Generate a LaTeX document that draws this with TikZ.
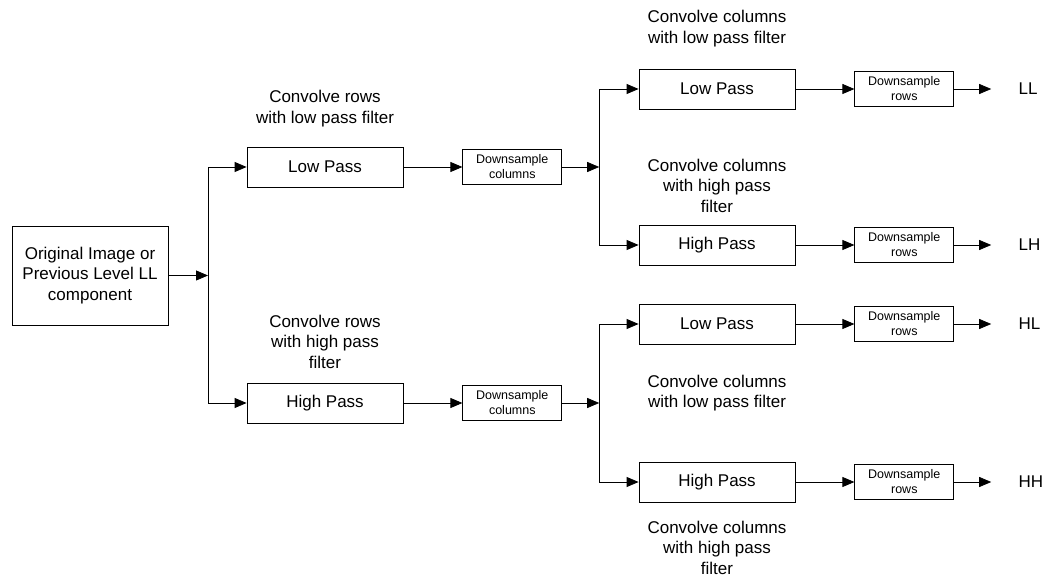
\documentclass[tikz,border=0pt]{standalone}
\usepackage{fontspec}
\setmainfont{Liberation Sans}
\usetikzlibrary{arrows.meta, positioning}

\begin{document}
\begin{tikzpicture}[
    x=1pt, y=-1pt,
    line width=0.8pt,
    box/.style={rectangle, draw, minimum width=156pt, minimum height=40pt,
                align=center, font=\fontsize{17}{20.5}\selectfont},
    dsbox/.style={rectangle, draw, minimum width=99pt, minimum height=35pt,
                  align=center, inner sep=0pt, font=\fontsize{12.5}{15}\selectfont},
    note/.style={align=center, inner sep=0pt, text depth=4pt,
                 font=\fontsize{17}{20.5}\selectfont},
    band/.style={inner sep=0pt, font=\fontsize{17}{20.5}\selectfont},
    arr/.style={-{Triangle[length=12pt, width=10pt]}}
  ]
  \useasboundingbox (0,0) rectangle (1047,577);

  % Input and row filters
  \node[box, minimum height=99pt] (orig) at (90,275.5)
        {Original Image or\\Previous Level LL\\component};
  \coordinate (bus1) at (208,275.5);
  \node[box] (lowr) at (325,167) {Low Pass};
  \node[box] (highr) at (325,403) {High Pass};
  \node[dsbox, right=59pt of lowr] (dsc1) {Downsample\\columns};
  \node[dsbox, right=59pt of highr] (dsc2) {Downsample\\columns};
  \coordinate[right=37pt of dsc1] (bus2);
  \coordinate[right=37pt of dsc2] (bus3);

  % Column filters
  \node[box] (lowc1) at (717,89) {Low Pass};
  \node[box] (highc1) at (717,245) {High Pass};
  \node[box] (lowc2) at (717,324) {Low Pass};
  \node[box] (highc2) at (717,482) {High Pass};
  \node[dsbox, right=59pt of lowc1] (dsr1) {Downsample\\rows};
  \node[dsbox, right=59pt of highc1] (dsr2) {Downsample\\rows};
  \node[dsbox, right=59pt of lowc2] (dsr3) {Downsample\\rows};
  \node[dsbox, right=59pt of highc2] (dsr4) {Downsample\\rows};

  % Sub-bands
  \node[band, right=64pt of dsr1] (ll) {LL};
  \node[band, right=64pt of dsr2] (lh) {LH};
  \node[band, right=64pt of dsr3] (hl) {HL};
  \node[band, right=64pt of dsr4] (hh) {HH};

  % Filter notes
  \node[note, above=19pt of lowr] {Convolve rows\\with low pass filter};
  \node[note, above=10pt of highr] {Convolve rows\\with high pass\\filter};
  \node[note, above=21pt of lowc1] {Convolve columns\\with low pass filter};
  \node[note, above=8pt of highc1] {Convolve columns\\with high pass\\filter};
  \node[note, below=30pt of lowc2] {Convolve columns\\with low pass filter};
  \node[note, below=18pt of highc2] {Convolve columns\\with high pass\\filter};

  % Arrows
  \draw[arr] (orig) -- (bus1);
  \draw[arr] (bus1) |- (lowr);
  \draw[arr] (bus1) |- (highr);
  \draw[arr] (lowr) -- (dsc1);
  \draw[arr] (highr) -- (dsc2);
  \draw[arr] (dsc1) -- (bus2);
  \draw[arr] (dsc2) -- (bus3);
  \draw[arr] (bus2) |- (lowc1);
  \draw[arr] (bus2) |- (highc1);
  \draw[arr] (bus3) |- (lowc2);
  \draw[arr] (bus3) |- (highc2);
  \draw[arr] (lowc1) -- (dsr1);
  \draw[arr] (highc1) -- (dsr2);
  \draw[arr] (lowc2) -- (dsr3);
  \draw[arr] (highc2) -- (dsr4);
  \draw[arr] (dsr1) -- ([xshift=-27pt]ll.west);
  \draw[arr] (dsr2) -- ([xshift=-27pt]lh.west);
  \draw[arr] (dsr3) -- ([xshift=-27pt]hl.west);
  \draw[arr] (dsr4) -- ([xshift=-27pt]hh.west);
\end{tikzpicture}
\end{document}
